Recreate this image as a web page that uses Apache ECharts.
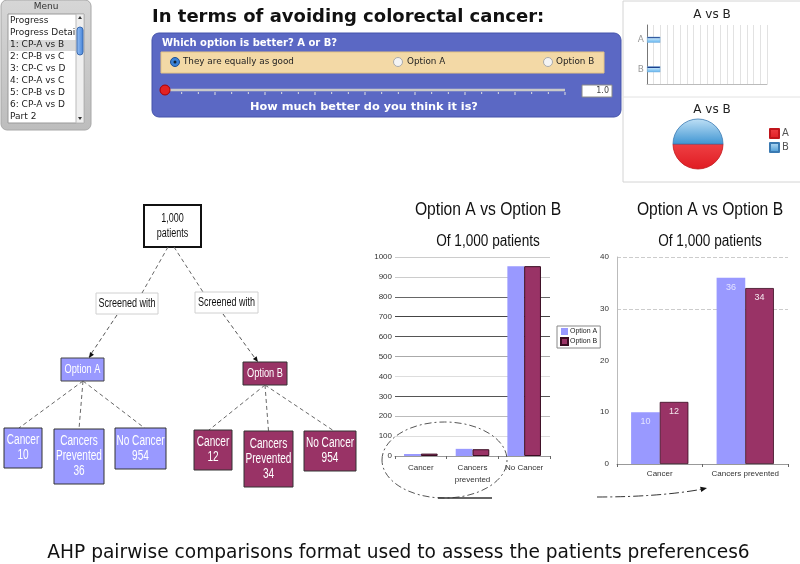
<!DOCTYPE html>
<html>
<head>
<meta charset="utf-8">
<script src="https://cdn.jsdelivr.net/npm/echarts@6/dist/echarts.min.js"></script>
<style>html,body{margin:0;padding:0;background:#fff}#c{width:800px;height:564px}</style>
</head>
<body>
<div id="c"></div>
<script>
// ---------- data ----------
const categories = ['Cancer', 'Cancers\nprevented', 'No Cancer'];
const optionA = [10, 36, 954];
const optionB = [12, 34, 954];
const zoomCategories = ['Cancer', 'Cancers prevented'];
const zoomA = optionA.slice(0, 2);
const zoomB = optionB.slice(0, 2);
const seriesNames = ['Option A', 'Option B'];
const fullTicks = [0, 100, 200, 300, 400, 500, 600, 700, 800, 900, 1000];
const zoomTicks = [0, 10, 20, 30, 40];
const ratingLabels = ['A', 'B'];
const ratingValues = [1, 1];
const pieValues = [1, 1];
const menuItems = ['Progress', 'Progress Detai', '1: CP-A vs B', '2: CP-B vs C', '3: CP-C vs D', '4: CP-A vs C', '5: CP-B vs D', '6: CP-A vs D', 'Part 2'];
const treeChildLabels = ['Cancer', 'Cancers\nPrevented', 'No Cancer'];
const totalPatients = '1,000';
const sliderValue = '1.0';

// ---------- styles ----------
const colA = '#9999ff', colB = '#993366';
const UI = 'DejaVu Sans', AR = 'Liberation Sans';

const g = [];
function rect(x, y, w, h, fill, stroke, lw, r, z) {
  g.push({type: 'rect', z: z || 1, shape: {x, y, width: w, height: h, r: r || 0}, style: {fill, stroke, lineWidth: lw || 1}});
}
function text(t, x, y, font, fill, align, sx, lh, z) {
  g.push({type: 'text', z: z || 5, x, y, scaleX: sx || 1,
    style: {text: t, x: 0, y: 0, font, fill, align: align || 'left', verticalAlign: 'middle', lineHeight: lh}});
}
function line(x1, y1, x2, y2, stroke, lw, dash, z) {
  g.push({type: 'line', z: z || 2, shape: {x1, y1, x2, y2}, style: {stroke, lineWidth: lw || 1, lineDash: dash || null}});
}
function arrowHead(x1, y1, x2, y2, size) {
  const a = Math.atan2(y2 - y1, x2 - x1), s = size || 6;
  g.push({type: 'polygon', z: 3, shape: {points: [[x2, y2],
    [x2 - s * Math.cos(a - 0.4), y2 - s * Math.sin(a - 0.4)],
    [x2 - s * Math.cos(a + 0.4), y2 - s * Math.sin(a + 0.4)]]}, style: {fill: '#111'}});
}

// ---------- menu ----------
rect(1, 0, 90, 130, {type: 'linear', x: 0, y: 0, x2: 0, y2: 1, colorStops: [{offset: 0, color: '#d6d6d6'}, {offset: 1, color: '#bdbdbd'}]}, '#a8a8a8', 1, 6);
text('Menu', 46, 7, '9px ' + UI, '#333', 'center');
rect(8, 14, 76, 109, '#fff', '#999', 1);
rect(9, 40, 67, 11, '#d9d9d9', null, 0, 0, 2);
menuItems.forEach((m, i) => text(m, 10, 21 + i * 12, '9px ' + UI, '#222', 'left'));
rect(76, 14, 8, 109, '#efefef', '#bbb', 1, 0, 6);
rect(77, 27, 6, 28, {type: 'linear', x: 0, y: 0, x2: 1, y2: 0, colorStops: [{offset: 0, color: '#9cc4f5'}, {offset: 1, color: '#3f7fd8'}]}, '#3a6ab0', 1, 3, 7);
g.push({type: 'polygon', z: 7, shape: {points: [[78, 19], [82, 19], [80, 16]]}, style: {fill: '#333'}});
g.push({type: 'polygon', z: 7, shape: {points: [[78, 117], [82, 117], [80, 120]]}, style: {fill: '#333'}});

// ---------- banner ----------
text('In terms of avoiding colorectal cancer:', 152, 17, 'bold 18px ' + UI, '#111', 'left');
rect(152, 33, 469, 84, '#5b68c4', '#4453aa', 1, 7);
text('Which option is better? A or B?', 162, 43, 'bold 10px ' + UI, '#fff', 'left');
rect(161, 52, 443, 21, '#f3d9a6', '#e2c284', 1);
g.push({type: 'circle', z: 4, shape: {cx: 175, cy: 62, r: 4.5}, style: {fill: '#3b82d6', stroke: '#1d4f94', lineWidth: 1}});
g.push({type: 'circle', z: 5, shape: {cx: 175, cy: 62, r: 1.5}, style: {fill: '#123'}});
g.push({type: 'circle', z: 4, shape: {cx: 398, cy: 62, r: 4.5}, style: {fill: '#f4f4f4', stroke: '#aaa', lineWidth: 1}});
g.push({type: 'circle', z: 4, shape: {cx: 548, cy: 62, r: 4.5}, style: {fill: '#f4f4f4', stroke: '#aaa', lineWidth: 1}});
text('They are equally as good', 183, 62, '8.8px ' + UI, '#222', 'left');
text('Option A', 407, 62, '8.8px ' + UI, '#222', 'left');
text('Option B', 556, 62, '8.8px ' + UI, '#222', 'left');
line(165, 90, 565, 90, '#c9c9c9', 2.5);
for (let i = 1; i <= 24; i++) {
  const x = 165 + i * 400 / 24;
  line(x, 92, x, i % 3 === 0 ? 95 : 94, '#e0e0e0', 1);
}
g.push({type: 'circle', z: 4, shape: {cx: 165, cy: 90, r: 5}, style: {fill: '#e22222', stroke: '#a00', lineWidth: 1}});
rect(582, 85, 30, 12, '#fff', '#888', 1);
text(sliderValue, 609, 91, '8px ' + UI, '#444', 'right');
text('How much better do you think it is?', 364, 107, 'bold 11.3px ' + UI, '#fff', 'center');

// ---------- top right panel ----------
line(623, 1, 800, 1, '#d4d4d4', 1);
line(623, 1, 623, 182, '#d4d4d4', 1);
line(623, 182, 800, 182, '#d4d4d4', 1);
line(623, 97, 800, 97, '#e2e2e2', 1);
text('A vs B', 712, 15, '12px ' + UI, '#222', 'center');
text('A vs B', 712, 110, '12px ' + UI, '#222', 'center');

// ---------- tree ----------
const dash = [4, 3];
rect(144, 205, 57, 42, '#fff', '#111', 2);
text(totalPatients + '\npatients', 172.5, 226, '12px ' + AR, '#111', 'center', 0.75, 15);
rect(96, 293, 62, 21, '#fff', '#d0d0d0', 1);
rect(195, 292, 63, 21, '#fff', '#d0d0d0', 1);
text('Screened with', 127, 304, '12px ' + AR, '#111', 'center', 0.75);
text('Screened with', 226.5, 303, '12px ' + AR, '#111', 'center', 0.75);
line(168, 247, 142, 293, '#666', 1, dash);
line(174, 247, 203, 292, '#666', 1, dash);
line(117, 315, 89, 357, '#555', 1, dash); arrowHead(117, 315, 89, 358, 6);
line(223, 314, 257, 361, '#555', 1, dash); arrowHead(223, 314, 258, 362, 6);
rect(61, 358, 43, 23, colA, '#444', 1);
rect(243, 362, 44, 23, colB, '#333', 1);
text(seriesNames[0], 82.5, 369.5, '12px ' + AR, '#fff', 'center', 0.77);
text(seriesNames[1], 265, 373.5, '12px ' + AR, '#fff', 'center', 0.77);
const boxesA = [[4, 428, 38, 40], [54, 429, 50, 55], [115, 428, 51, 41]];
const boxesB = [[194, 430, 38, 40], [244, 431, 49, 56], [304, 431, 52, 40]];
[[boxesA, optionA, colA, [83, 381]], [boxesB, optionB, colB, [265, 385]]].forEach(([boxes, vals, col, p]) => {
  boxes.forEach((b, i) => {
    line(p[0], p[1], b[0] + b[2] / 2 + (i === 0 ? -4 : i === 2 ? 4 : 0), b[1], '#666', 1, dash);
    rect(b[0], b[1], b[2], b[3], col, '#333', 1, 0, 3);
    text(treeChildLabels[i] + '\n' + vals[i], b[0] + b[2] / 2, b[1] + b[3] / 2, '14px ' + AR, '#fff', 'center', 0.72, 15);
  });
});

// ---------- chart titles ----------
text('Option A vs Option B', 488, 210, '18px ' + AR, '#111', 'center', 0.87);
text('Of 1,000 patients', 488, 242, '16px ' + AR, '#111', 'center', 0.85);
text('Option A vs Option B', 710, 210, '18px ' + AR, '#111', 'center', 0.87);
text('Of 1,000 patients', 710, 242, '16px ' + AR, '#111', 'center', 0.85);

// ---------- ellipse + arrow ----------
g.push({type: 'ellipse', z: 8, shape: {cx: 444.5, cy: 460, rx: 62.5, ry: 38}, style: {fill: null, stroke: '#555', lineWidth: 1, lineDash: [7, 3, 2, 3]}});
line(438, 498, 492, 498, '#333', 1.5, null, 9);
g.push({type: 'bezierCurve', z: 8, shape: {x1: 597, y1: 497, x2: 703, y2: 489, cpx1: 660, cpy1: 497}, style: {stroke: '#333', lineWidth: 1, lineDash: [10, 3, 2, 3], fill: null}});
arrowHead(690, 491.5, 707, 488, 7);

// ---------- caption ----------
text('AHP pairwise comparisons format used to assess the patients preferences6', 398.5, 553, '18.6px ' + UI, '#111', 'center');

const axisFont = {fontFamily: AR, fontSize: 8, color: '#333'};
const chart = echarts.init(document.getElementById('c'), null, {renderer: 'canvas'});
chart.setOption({
  animation: false,
  color: [colA, colB],
  legend: [
    {data: seriesNames, left: 557, top: 326, orient: 'vertical', icon: 'rect', itemWidth: 7, itemHeight: 7, itemGap: 2,
      padding: [2, 3], borderColor: '#888', borderWidth: 1, textStyle: {fontFamily: AR, fontSize: 7, color: '#222', padding: [0, 0, 0, -3]}},
    {data: ratingLabels, left: 764, top: 123, orient: 'vertical', icon: 'rect', itemWidth: 9, itemHeight: 9, itemGap: 3,
      textStyle: {fontFamily: UI, fontSize: 10, color: '#555', padding: [0, 0, 0, -2]}}
  ],
  grid: [
    {left: 395, top: 257, width: 155, height: 199, outerBoundsMode: 'none', containLabel: false},
    {left: 617, top: 257, width: 171, height: 207, outerBoundsMode: 'none', containLabel: false},
    {left: 647, top: 25, width: 120, height: 59, outerBoundsMode: 'none', containLabel: false}
  ],
  xAxis: [
    {gridIndex: 0, type: 'category', data: categories, axisLine: {lineStyle: {color: '#999'}},
      axisTick: {show: true, length: 3, lineStyle: {color: '#666'}}, axisLabel: Object.assign({interval: 0, margin: 6, lineHeight: 12}, axisFont)},
    {gridIndex: 1, type: 'category', data: zoomCategories, axisLine: {lineStyle: {color: '#999'}},
      axisTick: {show: true, length: 3, lineStyle: {color: '#666'}}, axisLabel: Object.assign({interval: 0, margin: 6}, axisFont)},
    {gridIndex: 2, type: 'value', min: 0, max: 9, interval: 0.5, axisLabel: {show: false}, axisTick: {show: false},
      axisLine: {show: true, lineStyle: {color: '#bbb'}}, splitLine: {lineStyle: {color: '#e2e2e2'}}}
  ],
  yAxis: [
    {gridIndex: 0, type: 'value', min: fullTicks[0], max: fullTicks[fullTicks.length - 1], interval: fullTicks[1] - fullTicks[0],
      axisLabel: Object.assign({margin: 3, formatter: v => String(v)}, axisFont), axisLine: {show: false}, axisTick: {show: false},
      splitLine: {lineStyle: {color: ['#aaa', '#ddd', '#bbb', '#555', '#ddd', '#aaa', '#555', '#444', '#666', '#ccc', '#ccc']}}},
    {gridIndex: 1, type: 'value', min: zoomTicks[0], max: zoomTicks[zoomTicks.length - 1], interval: zoomTicks[1] - zoomTicks[0],
      axisLabel: Object.assign({margin: 8}, axisFont), axisLine: {show: true, lineStyle: {color: '#bbb'}}, axisTick: {show: false},
      splitLine: {lineStyle: {type: 'dashed', color: ['transparent', 'transparent', 'transparent', '#ccc', '#ccc']}}},
    {gridIndex: 2, type: 'category', data: ratingLabels, inverse: true, axisLine: {lineStyle: {color: '#777'}},
      axisTick: {show: false}, axisLabel: {fontFamily: UI, fontSize: 9, color: '#999', margin: 3}}
  ],
  series: [
    {name: seriesNames[0], type: 'bar', xAxisIndex: 0, yAxisIndex: 0, data: optionA, barGap: '0%', barCategoryGap: '35%',
      itemStyle: {color: colA}},
    {name: seriesNames[1], type: 'bar', xAxisIndex: 0, yAxisIndex: 0, data: optionB, barGap: '0%', barCategoryGap: '35%',
      itemStyle: {color: colB, borderColor: '#3a0c22', borderWidth: 1}},
    {name: seriesNames[0], type: 'bar', xAxisIndex: 1, yAxisIndex: 1, data: zoomA, barGap: '0%', barCategoryGap: '33%',
      itemStyle: {color: colA},
      label: {show: true, position: 'insideTop', distance: 5, color: '#e4e4ff', fontFamily: AR, fontSize: 9}},
    {name: seriesNames[1], type: 'bar', xAxisIndex: 1, yAxisIndex: 1, data: zoomB, barGap: '0%', barCategoryGap: '33%',
      itemStyle: {color: colB, borderColor: '#3a0c22', borderWidth: 0.8},
      label: {show: true, position: 'insideTop', distance: 5, color: '#f4e8ee', fontFamily: AR, fontSize: 9}},
    {name: 'rating', type: 'bar', xAxisIndex: 2, yAxisIndex: 2, data: ratingValues, barWidth: 6,
      itemStyle: {color: {type: 'linear', x: 0, y: 0, x2: 0, y2: 1, colorStops: [
        {offset: 0, color: '#1c3f8c'}, {offset: 0.25, color: '#1c3f8c'}, {offset: 0.3, color: '#bfe3fb'}, {offset: 1, color: '#5fb3ee'}]},
        borderColor: '#7fb0dd', borderWidth: 0.5}},
    {name: 'pie', type: 'pie', center: [698, 144], radius: 25, startAngle: 0, clockwise: true,
      label: {show: false}, labelLine: {show: false},
      data: ratingLabels.map((n, i) => ({name: n, value: pieValues[i],
        itemStyle: {color: i === 0
          ? {type: 'linear', x: 0, y: 0, x2: 0, y2: 1, colorStops: [{offset: 0, color: '#ee4044'}, {offset: 1, color: '#e01b22'}]}
          : {type: 'linear', x: 0, y: 0, x2: 0, y2: 1, colorStops: [{offset: 0, color: '#bfe0f6'}, {offset: 1, color: '#3f95d2'}]},
          borderColor: i === 0 ? '#c0151b' : '#3a7ab2', borderWidth: 0.8}}))}
  ],
  graphic: {elements: g}
});
</script>
</body>
</html>
